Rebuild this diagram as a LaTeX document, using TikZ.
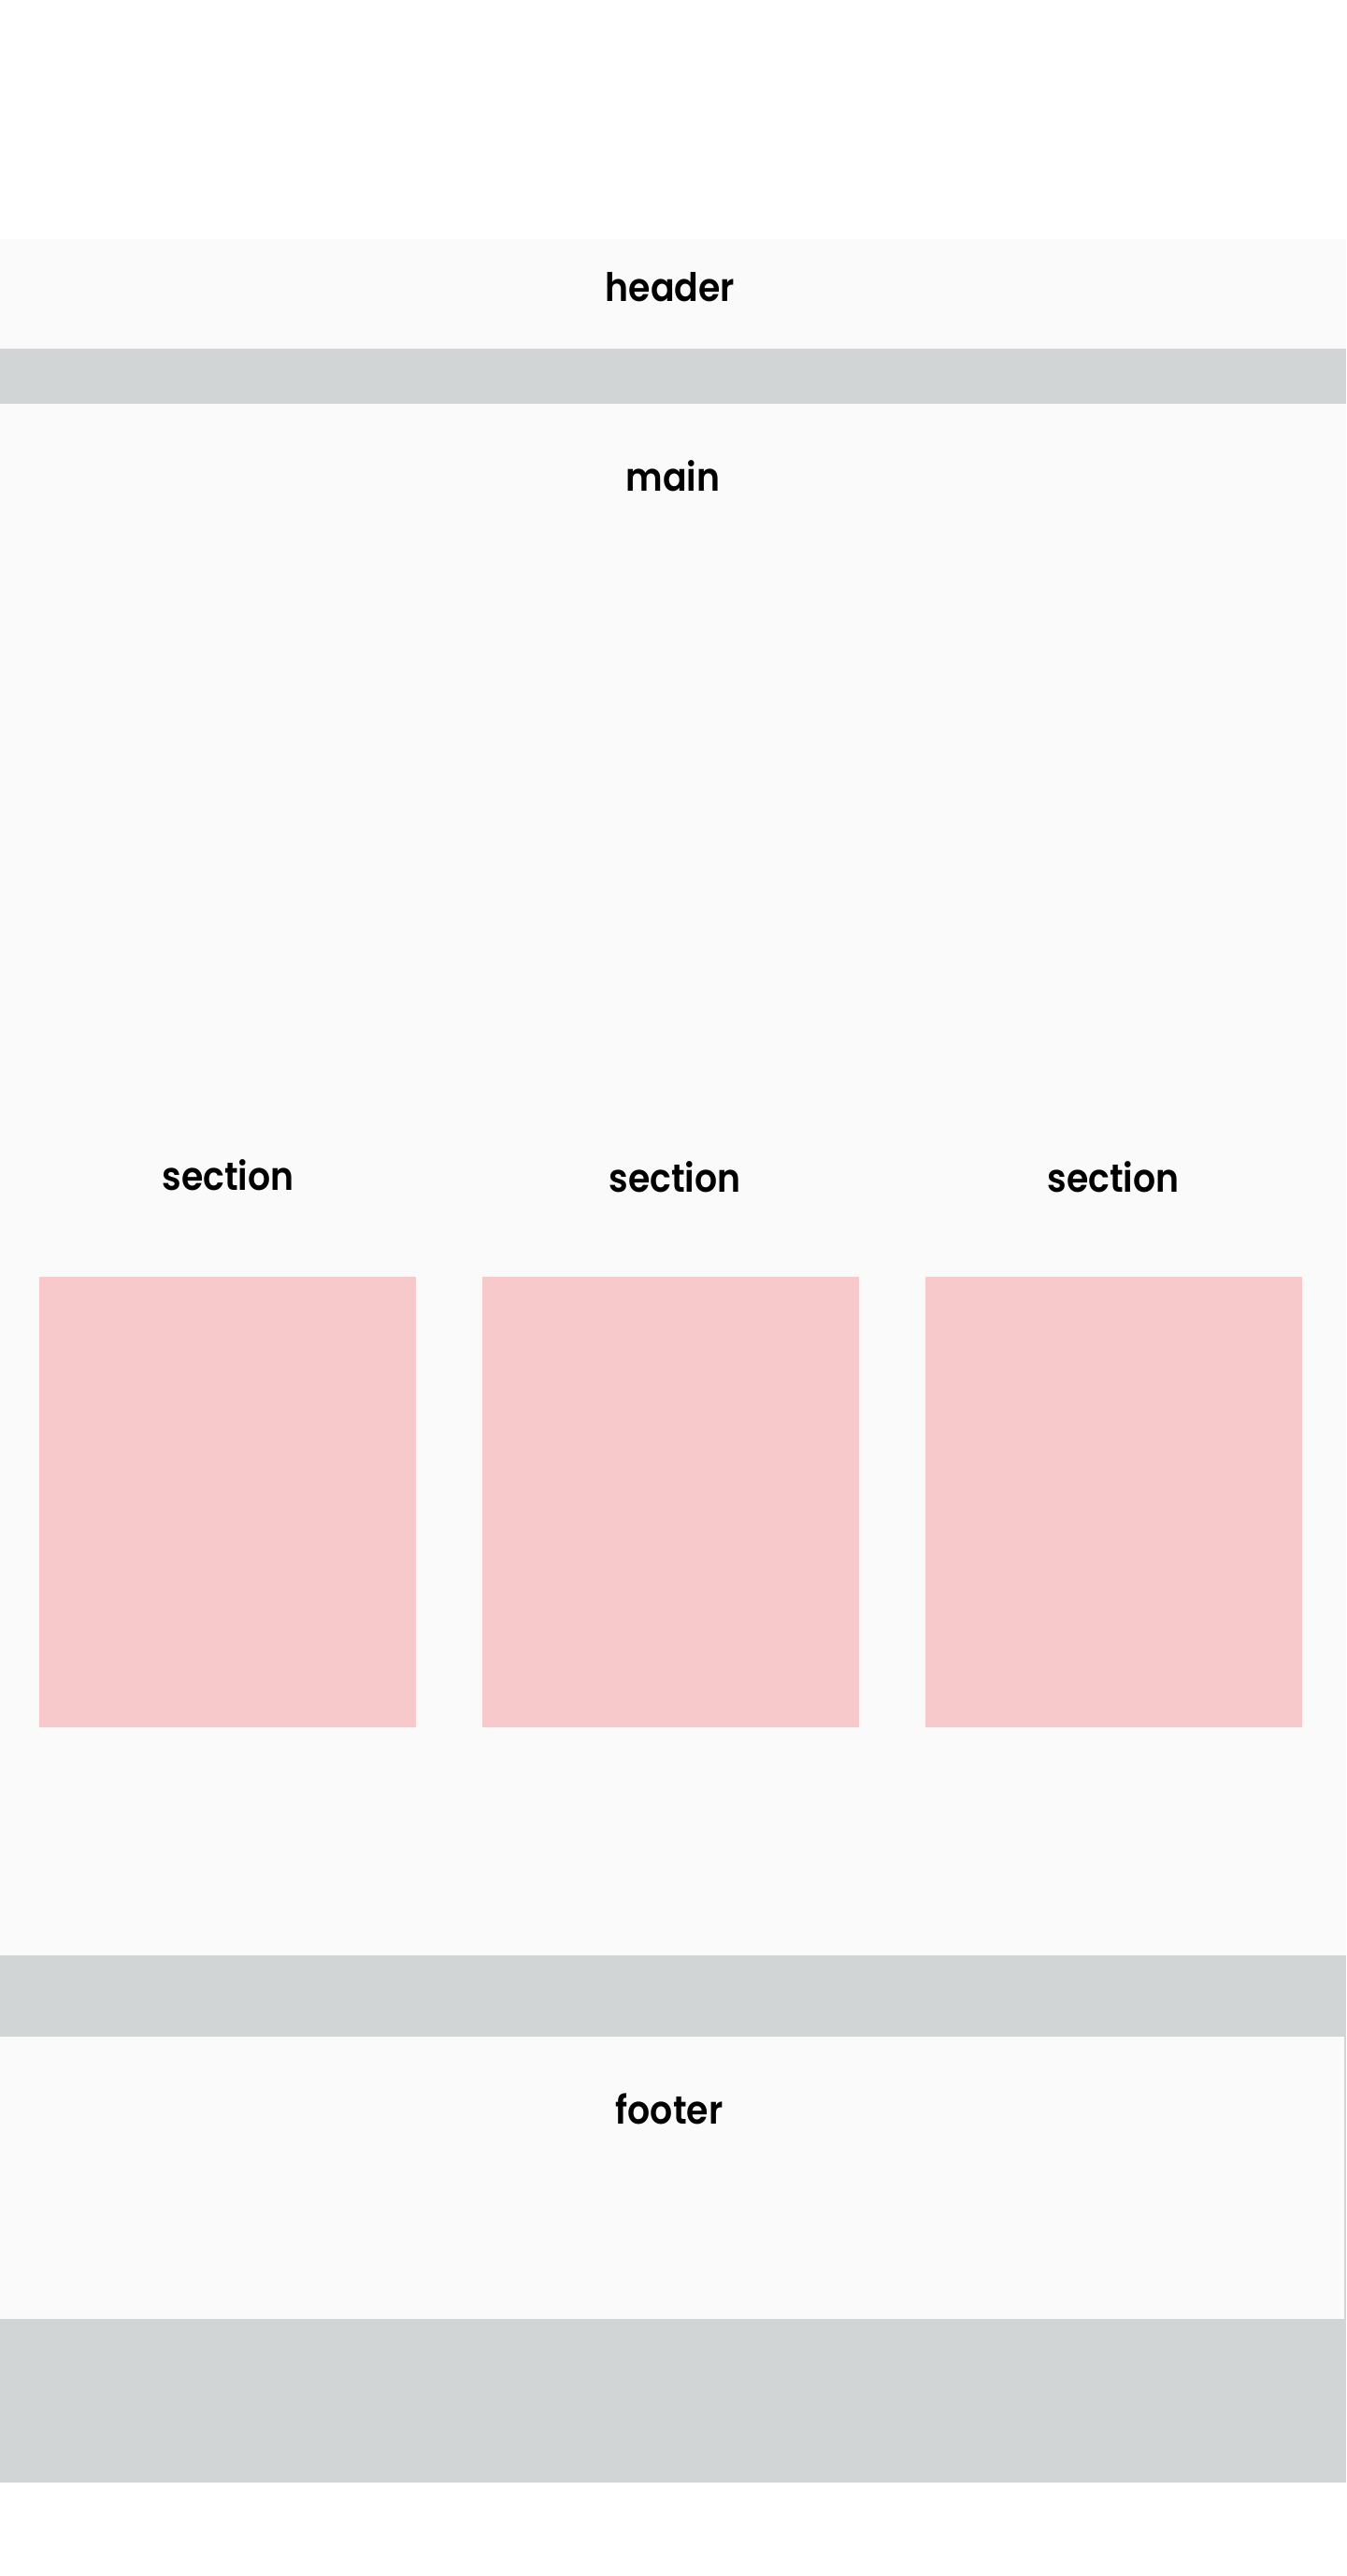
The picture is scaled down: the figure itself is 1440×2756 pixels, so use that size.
\documentclass[tikz,border=0pt]{standalone}
\usepackage{fontspec}
\setmainfont{Poppins}[UprightFont={* SemiBold}, FakeStretch=0.9]
\definecolor{panel}{RGB}{250,250,250}
\definecolor{band}{RGB}{209,213,214}
\definecolor{card}{RGB}{248,201,202}
\tikzset{
  block/.style={draw=none, inner sep=0pt, outer sep=0pt, anchor=north west},
  label/.style={inner sep=0pt, anchor=base, font=\fontsize{42}{50}\selectfont, text=black},
}
\begin{document}
\begin{tikzpicture}[x=1pt,y=-1pt]
\useasboundingbox[fill=white] (0,0) rectangle (1440,2756);
% header
\node[block, fill=panel, minimum width=1440pt, minimum height=117pt] (header) at (0,256) {};
% gray body band
\node[block, fill=band, minimum width=1440pt, minimum height=2283pt] (body) at (0,373) {};
% main
\node[block, fill=panel, minimum width=1440pt, minimum height=1660pt] (main) at (0,432) {};
% footer
\node[block, fill=panel, minimum width=1438pt, minimum height=302pt] (footer) at (0,2179) {};
% cards
\node[block, fill=card, minimum width=403pt, minimum height=482pt] (c1) at (42,1366) {};
\node[block, fill=card, minimum width=403pt, minimum height=482pt] (c2) at (516,1366) {};
\node[block, fill=card, minimum width=403pt, minimum height=482pt] (c3) at (990,1366) {};
% labels
\node[label] (th) at (717,322) {header};
\node[label] (tm) at (720,525) {main};
\node[label] (ts1) at (244,1273) {section};
\node[label] (ts2) at (722,1275) {section};
\node[label] (ts3) at (1191,1275) {section};
\node[label] (tf) at (716,2272) {footer};
\end{tikzpicture}
\end{document}
